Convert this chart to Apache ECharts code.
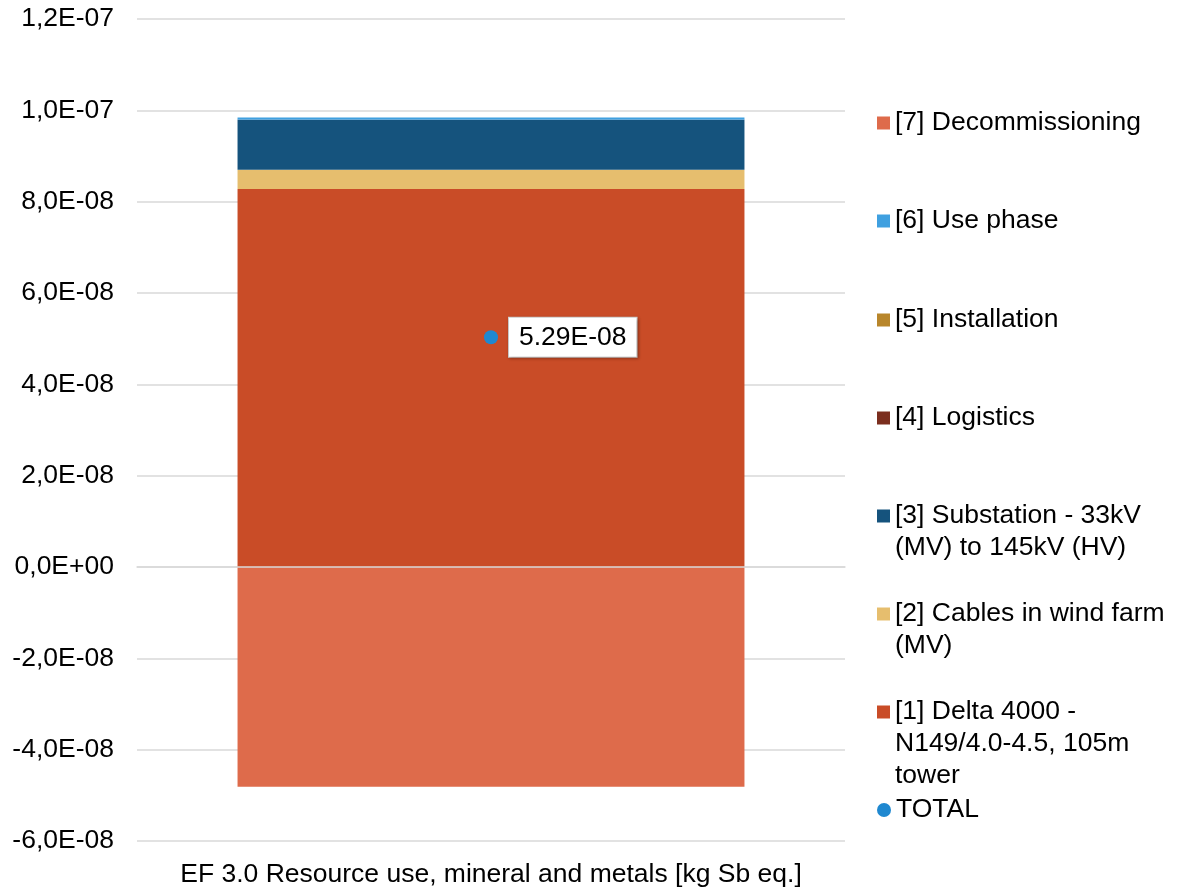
<!DOCTYPE html>
<html>
<head>
<meta charset="utf-8">
<script src="https://cdn.jsdelivr.net/npm/echarts@6/dist/echarts.min.js"></script>
<style>
  html, body { margin: 0; padding: 0; background: #fff; }
  #chart { width: 1177px; height: 888px; }
</style>
</head>
<body>
<div id="chart"></div>
<script>
// data
const categories = ['EF 3.0 Resource use, mineral and metals [kg Sb eq.]']
const delta = [8.28e-8]
const cables = [4.2e-9]
const substation = [1.09e-8]
const logistics = [2e-11]
const installation = [3e-11]
const usePhase = [5e-10]
const decommissioning = [-4.81e-8]
const total = [5.03e-8]
const totalLabel = ['5.29E-08']

const FONT = 'Liberation Sans, Arial, sans-serif'
const FS = 26.5

function sci(v) {
  const s = Number(v).toExponential(1)
  const [m, e] = s.split('e')
  const sign = e[0] === '-' ? '-' : '+'
  const digits = e.replace(/^[+-]/, '').padStart(2, '0')
  return m.replace('.', ',') + 'E' + sign + digits
}

const wrapped = {
  '[1] Delta 4000 - N149/4.0-4.5, 105m tower': ['[1] Delta 4000 -', 'N149/4.0-4.5, 105m', 'tower'],
  '[2] Cables in wind farm (MV)': ['[2] Cables in wind farm', '(MV)'],
  '[3] Substation - 33kV (MV) to 145kV (HV)': ['[3] Substation - 33kV', '(MV) to 145kV (HV)']
}

// icon is centred on the text block, so pad with blank lines above
// to keep the marker level with the first line
function legendText(name) {
  const lines = wrapped[name] || [name]
  const blanks = new Array(lines.length - 1).fill(' ')
  return blanks.concat(lines).join('\n')
}

const barSeries = [
  { name: '[1] Delta 4000 - N149/4.0-4.5, 105m tower', data: delta, color: '#c94c27' },
  { name: '[2] Cables in wind farm (MV)', data: cables, color: '#e6be6e' },
  { name: '[3] Substation - 33kV (MV) to 145kV (HV)', data: substation, color: '#15537d' },
  { name: '[4] Logistics', data: logistics, color: '#7b2e1e' },
  { name: '[5] Installation', data: installation, color: '#b8862b' },
  { name: '[6] Use phase', data: usePhase, color: '#3fa0e0' },
  { name: '[7] Decommissioning', data: decommissioning, color: '#de6b4b' }
]

// legend placement: y of first text line
const LH = 32
const legendRows = [
  ['[7] Decommissioning', 123],
  ['[6] Use phase', 221],
  ['[5] Installation', 320],
  ['[4] Logistics', 418],
  ['[3] Substation - 33kV (MV) to 145kV (HV)', 516],
  ['[2] Cables in wind farm (MV)', 614],
  ['[1] Delta 4000 - N149/4.0-4.5, 105m tower', 712],
  ['TOTAL', 810]
]

const legends = legendRows.map(([name, y]) => {
  const n = (wrapped[name] || [name]).length
  const boxH = (2 * n - 1) * LH
  const isTotal = name === 'TOTAL'
  return {
    data: [name],
    left: 877,
    top: y - boxH / 2,
    padding: 0,
    orient: 'vertical',
    itemWidth: isTotal ? 14 : 13,
    itemHeight: isTotal ? 14 : 13,
    icon: isTotal ? 'circle' : 'rect',
    selectedMode: false,
    formatter: legendText,
    textStyle: {
      fontFamily: FONT,
      fontSize: FS,
      color: '#000',
      lineHeight: LH
    }
  }
})

const chart = echarts.init(document.getElementById('chart'))

const option = {
  backgroundColor: '#fff',
  animation: false,
  grid: { left: 137, right: 332, top: 19, bottom: 47 },
  legend: legends,
  xAxis: {
    type: 'category',
    data: categories,
    z: 10,
    axisLine: { show: true, onZero: true, lineStyle: { color: '#d9d9d9', width: 1.5 } },
    axisTick: { show: false },
    axisLabel: {
      fontFamily: FONT,
      fontSize: FS,
      color: '#000',
      margin: 20
    }
  },
  yAxis: {
    type: 'value',
    min: -6e-8,
    max: 1.2e-7,
    interval: 2e-8,
    axisLine: { show: false },
    axisTick: { show: false },
    splitLine: { lineStyle: { color: '#d9d9d9', width: 1.5 } },
    axisLabel: {
      fontFamily: FONT,
      fontSize: FS,
      color: '#000',
      margin: 23,
      formatter: sci
    }
  },
  series: [
    ...barSeries.map(s => ({
      name: s.name,
      type: 'bar',
      stack: 'total',
      barWidth: '71.6%',
      data: s.data,
      itemStyle: { color: s.color }
    })),
    {
      name: 'TOTAL',
      type: 'scatter',
      data: total,
      symbol: 'circle',
      symbolSize: 14,
      z: 5,
      itemStyle: { color: '#1f88d0', opacity: 1 },
      label: {
        show: true,
        position: 'right',
        distance: 11,
        formatter: p => totalLabel[p.dataIndex],
        fontFamily: FONT,
        fontSize: FS,
        color: '#000',
        backgroundColor: '#fff',
        borderColor: '#d0d0d0',
        borderWidth: 1,
        padding: [6, 10, 6, 10],
        shadowColor: 'rgba(0,0,0,0.25)',
        shadowBlur: 3,
        shadowOffsetX: 1,
        shadowOffsetY: 1
      }
    }
  ]
}

chart.setOption(option)
</script>
</body>
</html>
